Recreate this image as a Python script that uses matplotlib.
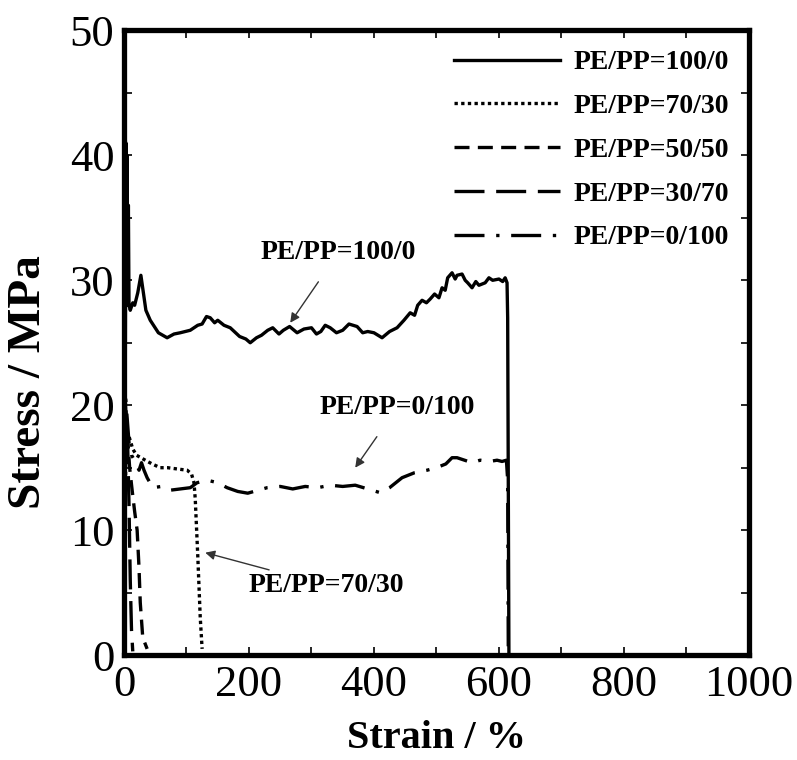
#!/usr/bin/env python3
"Stress-strain curves of PE/PP blends"

import matplotlib
matplotlib.use("Agg")
import matplotlib.pyplot as plt
from matplotlib.ticker import MultipleLocator

# PE/PP=100/0
STRAIN_100_0 = [0, 1, 2, 3, 4, 5, 6, 7, 8, 10, 14, 17, 22, 27, 31, 35, 42,
                55, 69, 80, 90, 106, 118, 125, 132, 138, 145, 150, 160, 170,
                185, 195, 202, 212, 220, 230, 238, 248, 255, 265, 277, 288,
                300, 308, 315, 322, 330, 340, 350, 360, 373, 382, 390, 400,
                413, 425, 437, 448, 458, 465, 470, 477, 484, 490, 497, 504,
                509, 514, 518, 525, 530, 533, 541, 546, 550, 557, 563, 568,
                578, 584, 590, 600, 606, 610, 613, 614, 616]
STRESS_100_0 = [0, 38, 22, 41, 30, 40, 28, 36, 28, 27.6, 28.2, 28, 29, 30.4,
                29, 27.6, 26.8, 25.8, 25.4, 25.7, 25.8, 26, 26.4, 26.5, 27.1,
                27, 26.6, 26.8, 26.4, 26.2, 25.5, 25.3, 25.0, 25.4, 25.6, 26,
                26.2, 25.7, 26, 26.3, 25.8, 26.1, 26.2, 25.7, 25.9, 26.4, 26.2,
                25.8, 26, 26.5, 26.3, 25.8, 25.9, 25.8, 25.4, 25.9, 26.2,
                26.8, 27.4, 27.2, 28, 28.4, 28.2, 28.5, 28.9, 28.6, 29.4,
                29.2, 30.2, 30.6, 30.1, 30.4, 30.5, 30.0, 29.8, 29.4, 29.9,
                29.6, 29.8, 30.2, 30, 30.1, 29.9, 30.2, 29.8, 27, 0]

# PE/PP=70/30
STRAIN_70_30 = [0, 3, 8, 14, 20, 27, 34, 45, 58, 70, 85, 101, 108, 112, 114,
                118, 122, 125]
STRESS_70_30 = [0, 17, 17.5, 16.5, 16, 15.8, 15.6, 15.3, 15.0, 15.0, 14.9,
                14.8, 14.5, 13.8, 12.5, 8, 3, 0.5]

# PE/PP=50/50
STRAIN_50_50 = [0, 1.5, 5, 9, 13, 17, 21, 24, 26, 30, 37]
STRESS_50_50 = [0, 21, 18, 15, 13.2, 11.5, 10, 7, 4.2, 1.4, 0.5]

# PE/PP=30/70
STRAIN_30_70 = [0, 2, 4, 6, 8, 10, 12, 14]
STRESS_30_70 = [0, 20.5, 18, 16.5, 12, 6, 2, 0.3]

# PE/PP=0/100
STRAIN_0_100 = [0, 2, 5, 8, 12, 18, 24, 28, 32, 37, 46, 60, 74, 90, 106, 117,
                133, 150, 165, 182, 198, 215, 229, 250, 270, 290, 310, 330,
                350, 370, 390, 410, 425, 445, 465, 485, 500, 515, 525, 533,
                545, 557, 570, 585, 597, 605, 612, 614, 615]
STRESS_0_100 = [0, 21, 19, 17, 16, 15.5, 14.8, 15.4, 14.8, 14.2, 13.4, 13.5,
                13.2, 13.3, 13.4, 13.8, 14.0, 13.8, 13.4, 13.1, 12.96, 13.2,
                13.4, 13.5, 13.3, 13.5, 13.4, 13.6, 13.5, 13.6, 13.3, 13.0,
                13.4, 14.2, 14.6, 14.8, 15.0, 15.3, 15.8, 15.8, 15.6, 15.4,
                15.6, 15.5, 15.6, 15.5, 15.6, 14, 0]

LABELS = ["PE/PP=100/0", "PE/PP=70/30", "PE/PP=50/50", "PE/PP=30/70",
          "PE/PP=0/100"]

SERIF = "Liberation Serif"


def main():
    "Main function"
    fig = plt.figure(figsize=(7.97, 7.60), dpi=100)
    axes = fig.add_axes([0.1556, 0.138, 0.784, 0.822])

    lw = 2.4
    axes.plot(STRAIN_100_0, STRESS_100_0, color="black", lw=lw,
              linestyle="-", label=LABELS[0])
    axes.plot(STRAIN_70_30, STRESS_70_30, color="black", lw=lw,
              linestyle=(0, (1, 1)), label=LABELS[1])
    axes.plot(STRAIN_50_50, STRESS_50_50, color="black", lw=lw,
              linestyle=(0, (4.5, 2.5)), label=LABELS[2])
    axes.plot(STRAIN_30_70, STRESS_30_70, color="black", lw=lw,
              linestyle=(0, (9, 3.5)), label=LABELS[3])
    axes.plot(STRAIN_0_100, STRESS_0_100, color="black", lw=lw,
              linestyle=(0, (9, 3.5, 1, 3.5)), label=LABELS[4])

    axes.set_xlim(0, 1000)
    axes.set_ylim(0, 50)
    axes.xaxis.set_major_locator(MultipleLocator(200))
    axes.xaxis.set_minor_locator(MultipleLocator(100))
    axes.yaxis.set_major_locator(MultipleLocator(10))
    axes.yaxis.set_minor_locator(MultipleLocator(5))
    axes.tick_params(which="both", direction="in", top=True, right=True,
                     length=6, width=1.2, labelsize=32, pad=7)
    for label in axes.get_xticklabels() + axes.get_yticklabels():
        label.set_fontfamily(SERIF)
    for spine in axes.spines.values():
        spine.set_linewidth(3.8)

    axes.set_xlabel("Strain / %", fontsize=29, fontweight="bold",
                    family=SERIF)
    axes.xaxis.set_label_coords(0.5, -0.104)
    axes.set_ylabel("Stress / MPa", fontsize=34, fontweight="bold",
                    family=SERIF)
    axes.yaxis.set_label_coords(-0.118, 0.437)

    leg = axes.legend(loc="upper right", bbox_to_anchor=(1.0, 1.0),
                      frameon=False, handlelength=3.8, handletextpad=0.5,
                      labelspacing=0.66, borderaxespad=0.3,
                      prop={"family": SERIF, "weight": "bold", "size": 20})
    for line in leg.get_lines():
        line.set_linewidth(2.4)

    arrow = dict(arrowstyle="-|>", color="#333333", lw=1.0,
                 mutation_scale=14)
    font = dict(family=SERIF, fontweight="bold", fontsize=20,
                ha="center", va="center")
    axes.annotate("PE/PP=100/0", xy=(266, 26.6), xytext=(343, 32.2),
                  arrowprops=dict(arrow, shrinkA=12, shrinkB=0), **font)
    axes.annotate("PE/PP=0/100", xy=(370, 15.0), xytext=(437, 19.8),
                  arrowprops=dict(arrow, shrinkA=12, shrinkB=0), **font)
    axes.annotate("PE/PP=70/30", xy=(130, 8.2), xytext=(323, 5.6),
                  arrowprops=dict(arrow, shrinkA=88, shrinkB=0), **font)

    fig.savefig("out.png", dpi=100)


if __name__ == "__main__":
    main()
